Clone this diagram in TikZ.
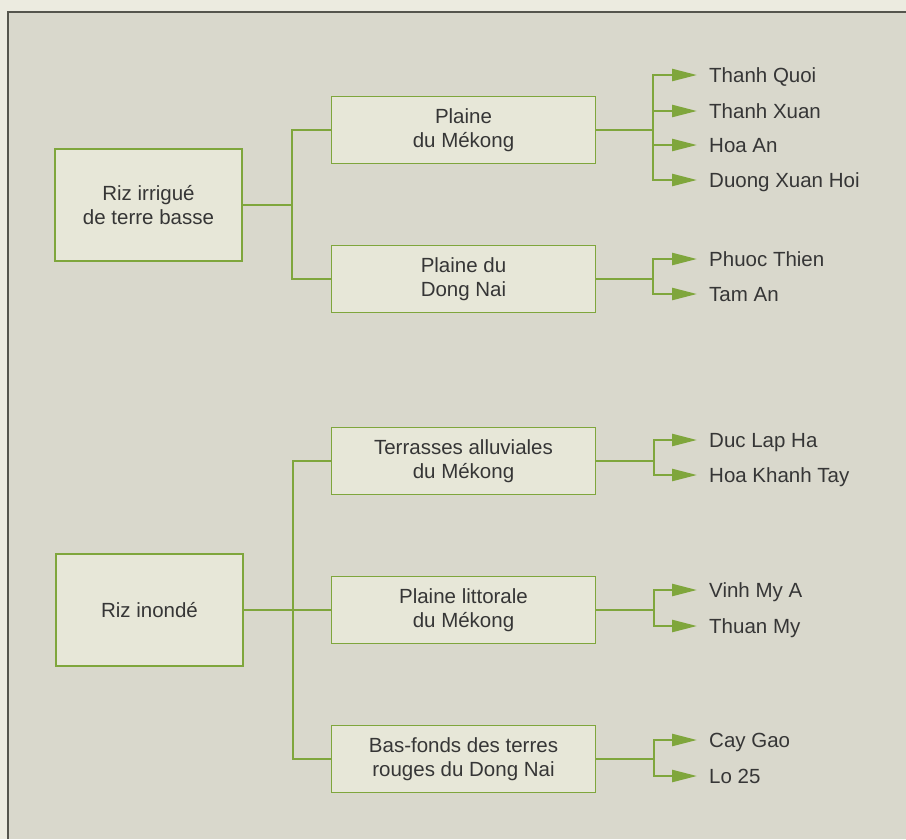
\documentclass[tikz,border=0pt]{standalone}
\usepackage{fontspec}
\setmainfont{Liberation Sans}
\usetikzlibrary{arrows.meta}
\definecolor{outbg}{HTML}{ECEBE0}
\definecolor{inbg}{HTML}{D9D8CC}
\definecolor{framec}{HTML}{55554D}
\definecolor{boxfill}{HTML}{E7E7D8}
\definecolor{grn}{HTML}{7FA63C}
\definecolor{txt}{HTML}{363636}
\newcommand\diafont{\fontsize{20.5}{24}\selectfont}
\begin{document}
\begin{tikzpicture}[x=1pt,y=-1pt,
  rootbox/.style={draw=grn, line width=2.4pt, fill=boxfill, minimum width=187pt, minimum height=112pt, align=center, text=txt, font=\diafont},
  subbox/.style={draw=grn, line width=1.3pt, fill=boxfill, minimum width=264pt, minimum height=67pt, align=center, text=txt, font=\diafont},
  leaf/.style={anchor=west, inner xsep=12pt, inner ysep=0pt, text height=15pt, text depth=0pt, text=txt, font=\diafont},
  conn/.style={draw=grn, line width=2.4pt},
  arr/.style={conn, -{Triangle[length=25pt,width=12pt]}}]
\useasboundingbox (0,0) rectangle (906,839);
\fill[outbg] (0,0) rectangle (906,839);
\fill[inbg] (8,12) rectangle (906,839);
\draw[framec, line width=2.5pt] (8,839) -- (8,12) -- (906,12);

% root boxes
\node[rootbox] (r1) at (148.5,205) {Riz irrigué\\de terre basse};
\node[rootbox] (r2) at (149.5,610) {Riz inondé};

% sub boxes
\node[subbox] (m1) at (463.5,130) {Plaine\\du Mékong};
\node[subbox] (m2) at (463.5,279) {Plaine du\\Dong Nai};
\node[subbox] (m3) at (463.5,461) {Terrasses alluviales\\du Mékong};
\node[subbox] (m4) at (463.5,610) {Plaine littorale\\du Mékong};
\node[subbox] (m5) at (463.5,759) {Bas-fonds des terres\\rouges du Dong Nai};

% leaves
\node[leaf] (l1) at (697,75) {Thanh Quoi};
\node[leaf] (l2) at (697,111) {Thanh Xuan};
\node[leaf] (l3) at (697,145) {Hoa An};
\node[leaf] (l4) at (697,180) {Duong Xuan Hoi};
\node[leaf] (l5) at (697,259) {Phuoc Thien};
\node[leaf] (l6) at (697,294) {Tam An};
\node[leaf] (l7) at (697,440) {Duc Lap Ha};
\node[leaf] (l8) at (697,475) {Hoa Khanh Tay};
\node[leaf] (l9) at (697,590) {Vinh My A};
\node[leaf] (l10) at (697,626) {Thuan My};
\node[leaf] (l11) at (697,740) {Cay Gao};
\node[leaf] (l12) at (697,776) {Lo 25};

% left buses
\coordinate (bx1) at (292,205);
\coordinate (bx2) at (293,610);
\draw[conn] (r1.east) -- (bx1);
\draw[conn] (m1.west) -| (bx1) |- (m2.west);
\draw[conn] (r2.east) -- (m4.west);
\draw[conn] (m3.west) -| (bx2) |- (m5.west);

% right buses
\coordinate (b1) at (653,130);
\coordinate (b2) at (653,279);
\coordinate (b3) at (654,461);
\coordinate (b4) at (654,610);
\coordinate (b5) at (654,759);
\draw[conn] (m1.east) -- (b1);
\draw[conn] (m2.east) -- (b2);
\draw[conn] (m3.east) -- (b3);
\draw[conn] (m4.east) -- (b4);
\draw[conn] (m5.east) -- (b5);
\draw[arr] (b1) |- (l1.west);
\draw[arr] (b1) |- (l2.west);
\draw[arr] (b1) |- (l3.west);
\draw[arr] (b1) |- (l4.west);
\draw[arr] (b2) |- (l5.west);
\draw[arr] (b2) |- (l6.west);
\draw[arr] (b3) |- (l7.west);
\draw[arr] (b3) |- (l8.west);
\draw[arr] (b4) |- (l9.west);
\draw[arr] (b4) |- (l10.west);
\draw[arr] (b5) |- (l11.west);
\draw[arr] (b5) |- (l12.west);
\end{tikzpicture}
\end{document}
